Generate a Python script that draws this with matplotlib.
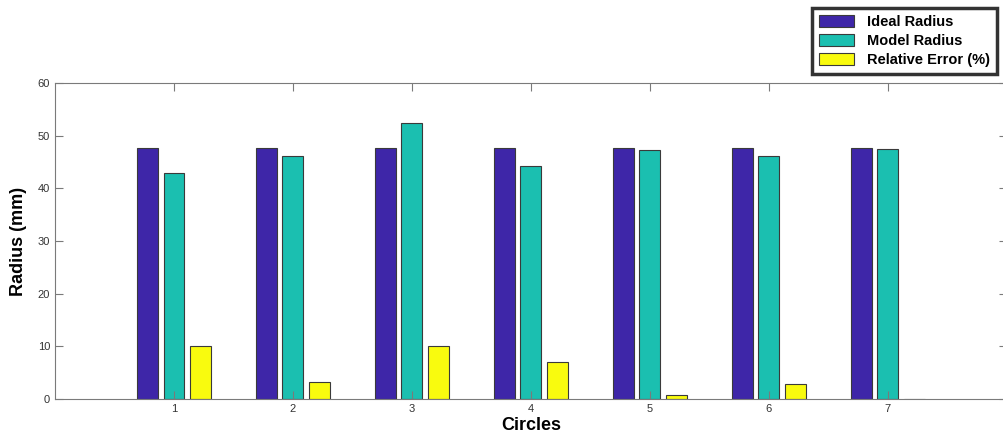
import matplotlib.pyplot as plt
import numpy as np

plt.rcParams['font.family'] = ['Liberation Sans', 'DejaVu Sans']

circles = [1, 2, 3, 4, 5, 6, 7]
ideal_radius = [47.6, 47.6, 47.6, 47.6, 47.6, 47.6, 47.6]
model_radius = [42.9, 46.1, 52.4, 44.3, 47.3, 46.2, 47.5]
relative_error = [10.0, 3.3, 10.1, 7.0, 0.8, 2.8, 0.0]

x = np.array(circles)
w = 0.176
off = 0.222
edge = '#3a3a3a'

fig = plt.figure(figsize=(10.04, 4.41), dpi=100)
ax = fig.add_axes([0.0548, 0.0952, 0.948, 0.7166])

b1 = ax.bar(x - off, ideal_radius, w, color='#3e26a8', edgecolor=edge, linewidth=0.8, label='Ideal Radius')
b2 = ax.bar(x, model_radius, w, color='#1bbfb0', edgecolor=edge, linewidth=0.8, label='Model Radius')
b3 = ax.bar(x + off, relative_error, w, color='#f9fb0e', edgecolor=edge, linewidth=0.8, label='Relative Error (%)')

ax.set_xlim(0, 8)
ax.set_ylim(0, 60)
ax.set_xticks(circles)
ax.set_yticks(np.arange(0, 61, 10))
ax.tick_params(direction='in', length=6, width=0.8, colors='#7a7a7a', labelcolor='#333333',
               labelsize=8, top=True, right=True)
for s in ax.spines.values():
    s.set_color('#7a7a7a')
    s.set_linewidth(0.8)

ax.set_xlabel('Circles', fontsize=13, fontweight='bold', labelpad=2)
ax.set_ylabel('Radius (mm)', fontsize=13, fontweight='bold', labelpad=8)

leg = fig.legend(handles=[b1, b2, b3], loc='upper right', bbox_to_anchor=(1.0, 0.998),
                 prop={'weight': 'bold', 'size': 10.5}, frameon=True, fancybox=False,
                 handlelength=2.4, handleheight=0.9, handletextpad=0.9, labelspacing=0.35,
                 borderpad=0.45)
leg.get_frame().set_edgecolor('black')
leg.get_frame().set_linewidth(2.5)

fig.savefig('out.png', dpi=100)
